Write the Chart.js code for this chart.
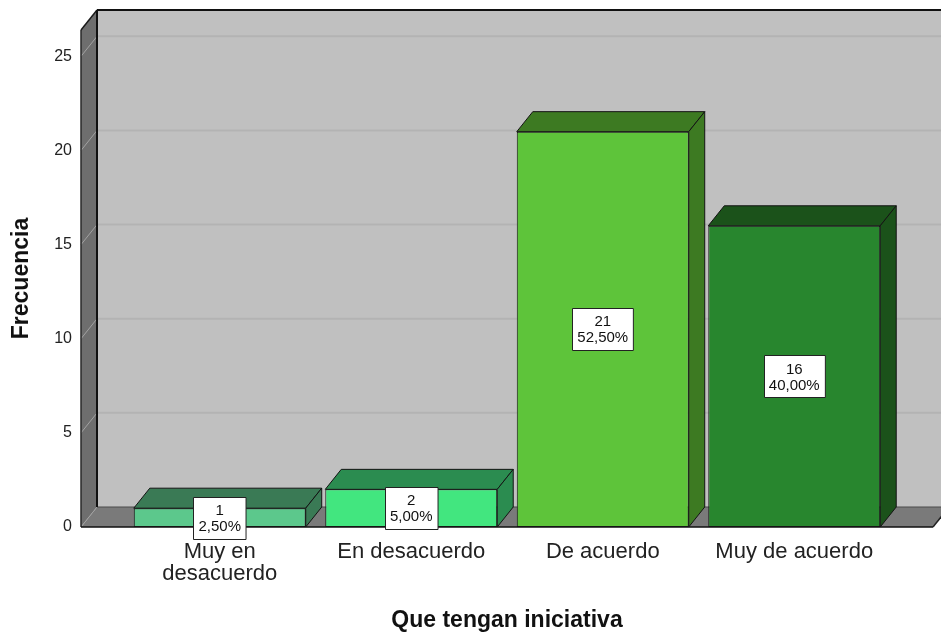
<!DOCTYPE html>
<html>
<head>
<meta charset="utf-8">
<script src="https://cdn.jsdelivr.net/npm/chart.js@4/dist/chart.umd.min.js"></script>
<style>
    html, body { margin: 0; padding: 0; background: #ffffff; }
    #wrap { width: 941px; height: 634px; }
</style>
</head>
<body>
<div id="wrap"><canvas id="myChart" width="941" height="634"></canvas></div>
<script>
const categories = [['Muy en', 'desacuerdo'], 'En desacuerdo', 'De acuerdo', 'Muy de acuerdo'];
const counts = [1, 2, 21, 16];
const percentLabels = ['2,50%', '5,00%', '52,50%', '40,00%'];
const yTickValues = [0, 5, 10, 15, 20, 25];

const frontColors = ['#5cc88c', '#42e67f', '#5ec43a', '#28862e'];
const shadeColors = ['#3a7a55', '#2b8c50', '#3d7a22', '#1b521a'];

// depth of the 3D box, in pixels
const DEPTH_X = 16;
const DEPTH_Y = 20;
const WALL_EXTRA = 43;
const FONT = '"Liberation Sans", Arial, sans-serif';

function poly(ctx, pts, fill, stroke, width) {
    ctx.beginPath();
    ctx.moveTo(pts[0][0], pts[0][1]);
    for (let i = 1; i < pts.length; i++) ctx.lineTo(pts[i][0], pts[i][1]);
    ctx.closePath();
    if (fill) {
        ctx.fillStyle = fill;
        ctx.fill();
    }
    if (stroke) {
        ctx.strokeStyle = stroke;
        ctx.lineWidth = width || 1;
        ctx.stroke();
    }
}

function line(ctx, x1, y1, x2, y2, color, width) {
    ctx.beginPath();
    ctx.moveTo(x1, y1);
    ctx.lineTo(x2, y2);
    ctx.strokeStyle = color;
    ctx.lineWidth = width;
    ctx.stroke();
}

const wallsPlugin = {
    id: 'walls',
    beforeDatasetsDraw(chart) {
        const {ctx, chartArea} = chart;
        const y = chart.scales.y;
        const left = chartArea.left - WALL_EXTRA;
        const right = chartArea.right + WALL_EXTRA;
        const top = chartArea.top;
        const bottom = y.getPixelForValue(0);
        ctx.save();

        // back wall
        ctx.fillStyle = '#c0c0c0';
        ctx.fillRect(left + DEPTH_X, top - DEPTH_Y, chart.width, bottom - top);

        // left wall
        poly(ctx, [[left, top], [left + DEPTH_X, top - DEPTH_Y], [left + DEPTH_X, bottom - DEPTH_Y], [left, bottom]], '#6e6e6e');

        // grid lines on back wall and left wall
        yTickValues.forEach((v) => {
            if (v === 0) return;
            const py = y.getPixelForValue(v);
            line(ctx, left + DEPTH_X, py - DEPTH_Y, chart.width, py - DEPTH_Y, '#b3b3b3', 2);
            line(ctx, left, py, left + DEPTH_X, py - DEPTH_Y, '#a2a2a2', 1);
        });

        // floor
        poly(ctx, [[left, bottom], [left + DEPTH_X, bottom - DEPTH_Y], [right + DEPTH_X, bottom - DEPTH_Y], [right, bottom]], '#7a7a7a');
        line(ctx, left, bottom, left + DEPTH_X, bottom - DEPTH_Y, '#a2a2a2', 1);
        line(ctx, left + DEPTH_X, bottom - DEPTH_Y, right + DEPTH_X, bottom - DEPTH_Y, '#4a4a4a', 1);

        // edges
        line(ctx, left, top, left, bottom, '#2a2a2a', 1.5);
        line(ctx, left, top, left + DEPTH_X, top - DEPTH_Y, '#1a1a1a', 1.5);
        line(ctx, left + DEPTH_X, top - DEPTH_Y, left + DEPTH_X, bottom - DEPTH_Y, '#111111', 2);
        line(ctx, left + DEPTH_X, top - DEPTH_Y, chart.width, top - DEPTH_Y, '#111111', 2);
        line(ctx, left, bottom, right, bottom, '#111111', 1.5);
        line(ctx, right, bottom, right + DEPTH_X, bottom - DEPTH_Y, '#222222', 1.5);
        ctx.restore();
    },
    afterDatasetsDraw(chart) {
        const {ctx} = chart;
        const meta = chart.getDatasetMeta(0);
        ctx.save();
        ctx.lineJoin = 'round';
        meta.data.forEach((bar, i) => {
            const x0 = bar.x - bar.width / 2;
            const x1 = bar.x + bar.width / 2;
            const yt = bar.y;
            const yb = bar.base;
            // top face
            poly(ctx, [[x0, yt], [x0 + DEPTH_X, yt - DEPTH_Y], [x1 + DEPTH_X, yt - DEPTH_Y], [x1, yt]], shadeColors[i], '#141414', 1);
            // right face
            poly(ctx, [[x1, yt], [x1 + DEPTH_X, yt - DEPTH_Y], [x1 + DEPTH_X, yb - DEPTH_Y], [x1, yb]], shadeColors[i], '#141414', 1);
        });

        // value labels
        ctx.font = '15px ' + FONT;
        ctx.textAlign = 'center';
        ctx.textBaseline = 'middle';
        meta.data.forEach((bar, i) => {
            const l1 = String(counts[i]);
            const l2 = percentLabels[i];
            const w = Math.max(ctx.measureText(l1).width, ctx.measureText(l2).width) + 10;
            const h = 42;
            const cy = (bar.y + bar.base) / 2;
            const bx = Math.round(bar.x - w / 2) + 0.5;
            const by = Math.round(cy - h / 2) + 0.5;
            ctx.fillStyle = '#ffffff';
            ctx.fillRect(bx, by, w, h);
            ctx.strokeStyle = '#222222';
            ctx.lineWidth = 1;
            ctx.strokeRect(bx, by, w, h);
            ctx.fillStyle = '#111111';
            ctx.fillText(l1, bar.x, cy - 7);
            ctx.fillText(l2, bar.x, cy + 9);
        });
        ctx.restore();
    }
};

const data = {
    labels: categories,
    datasets: [{
        data: counts,
        backgroundColor: frontColors,
        borderColor: '#141414',
        borderWidth: 1,
        borderSkipped: false,
        categoryPercentage: 1,
        barPercentage: 0.898
    }]
};

const options = {
    responsive: false,
    animation: false,
    events: [],
    devicePixelRatio: 1,
    layout: {
        padding: {top: 30, right: 51, bottom: 0, left: 0}
    },
    scales: {
        x: {
            offset: true,
            grid: {display: false, drawTicks: false},
            border: {display: false},
            ticks: {
                color: '#222222',
                padding: 13,
                maxRotation: 0,
                autoSkip: false,
                font: {family: FONT, size: 22, lineHeight: 1.04}
            },
            title: {
                display: true,
                text: 'Que tengan iniciativa',
                color: '#111111',
                padding: {top: 0, bottom: 0},
                font: {family: FONT, size: 23, weight: 'bold'}
            },
            afterFit(scale) {
                scale.height = 107;
            }
        },
        y: {
            min: 0,
            max: 26.4,
            grid: {display: false, drawTicks: false},
            border: {display: false},
            ticks: {
                stepSize: 5,
                includeBounds: false,
                color: '#222222',
                padding: 52,
                font: {family: FONT, size: 16}
            },
            title: {
                display: true,
                text: 'Frecuencia',
                color: '#111111',
                padding: {top: 8, bottom: 0},
                font: {family: FONT, size: 23, weight: 'bold'}
            },
            afterBuildTicks(scale) {
                scale.ticks = yTickValues.map((v) => ({value: v}));
            },
            afterFit(scale) {
                scale.width = 124;
                // the large tick padding should not push the plot area down
                scale.paddingTop = 0;
                scale.paddingBottom = 0;
            }
        }
    },
    plugins: {
        legend: {display: false},
        tooltip: {enabled: false}
    }
};

const chart = new Chart(document.getElementById('myChart'), {
    type: 'bar',
    data: data,
    options: options,
    plugins: [wallsPlugin]
});
</script>
</body>
</html>
